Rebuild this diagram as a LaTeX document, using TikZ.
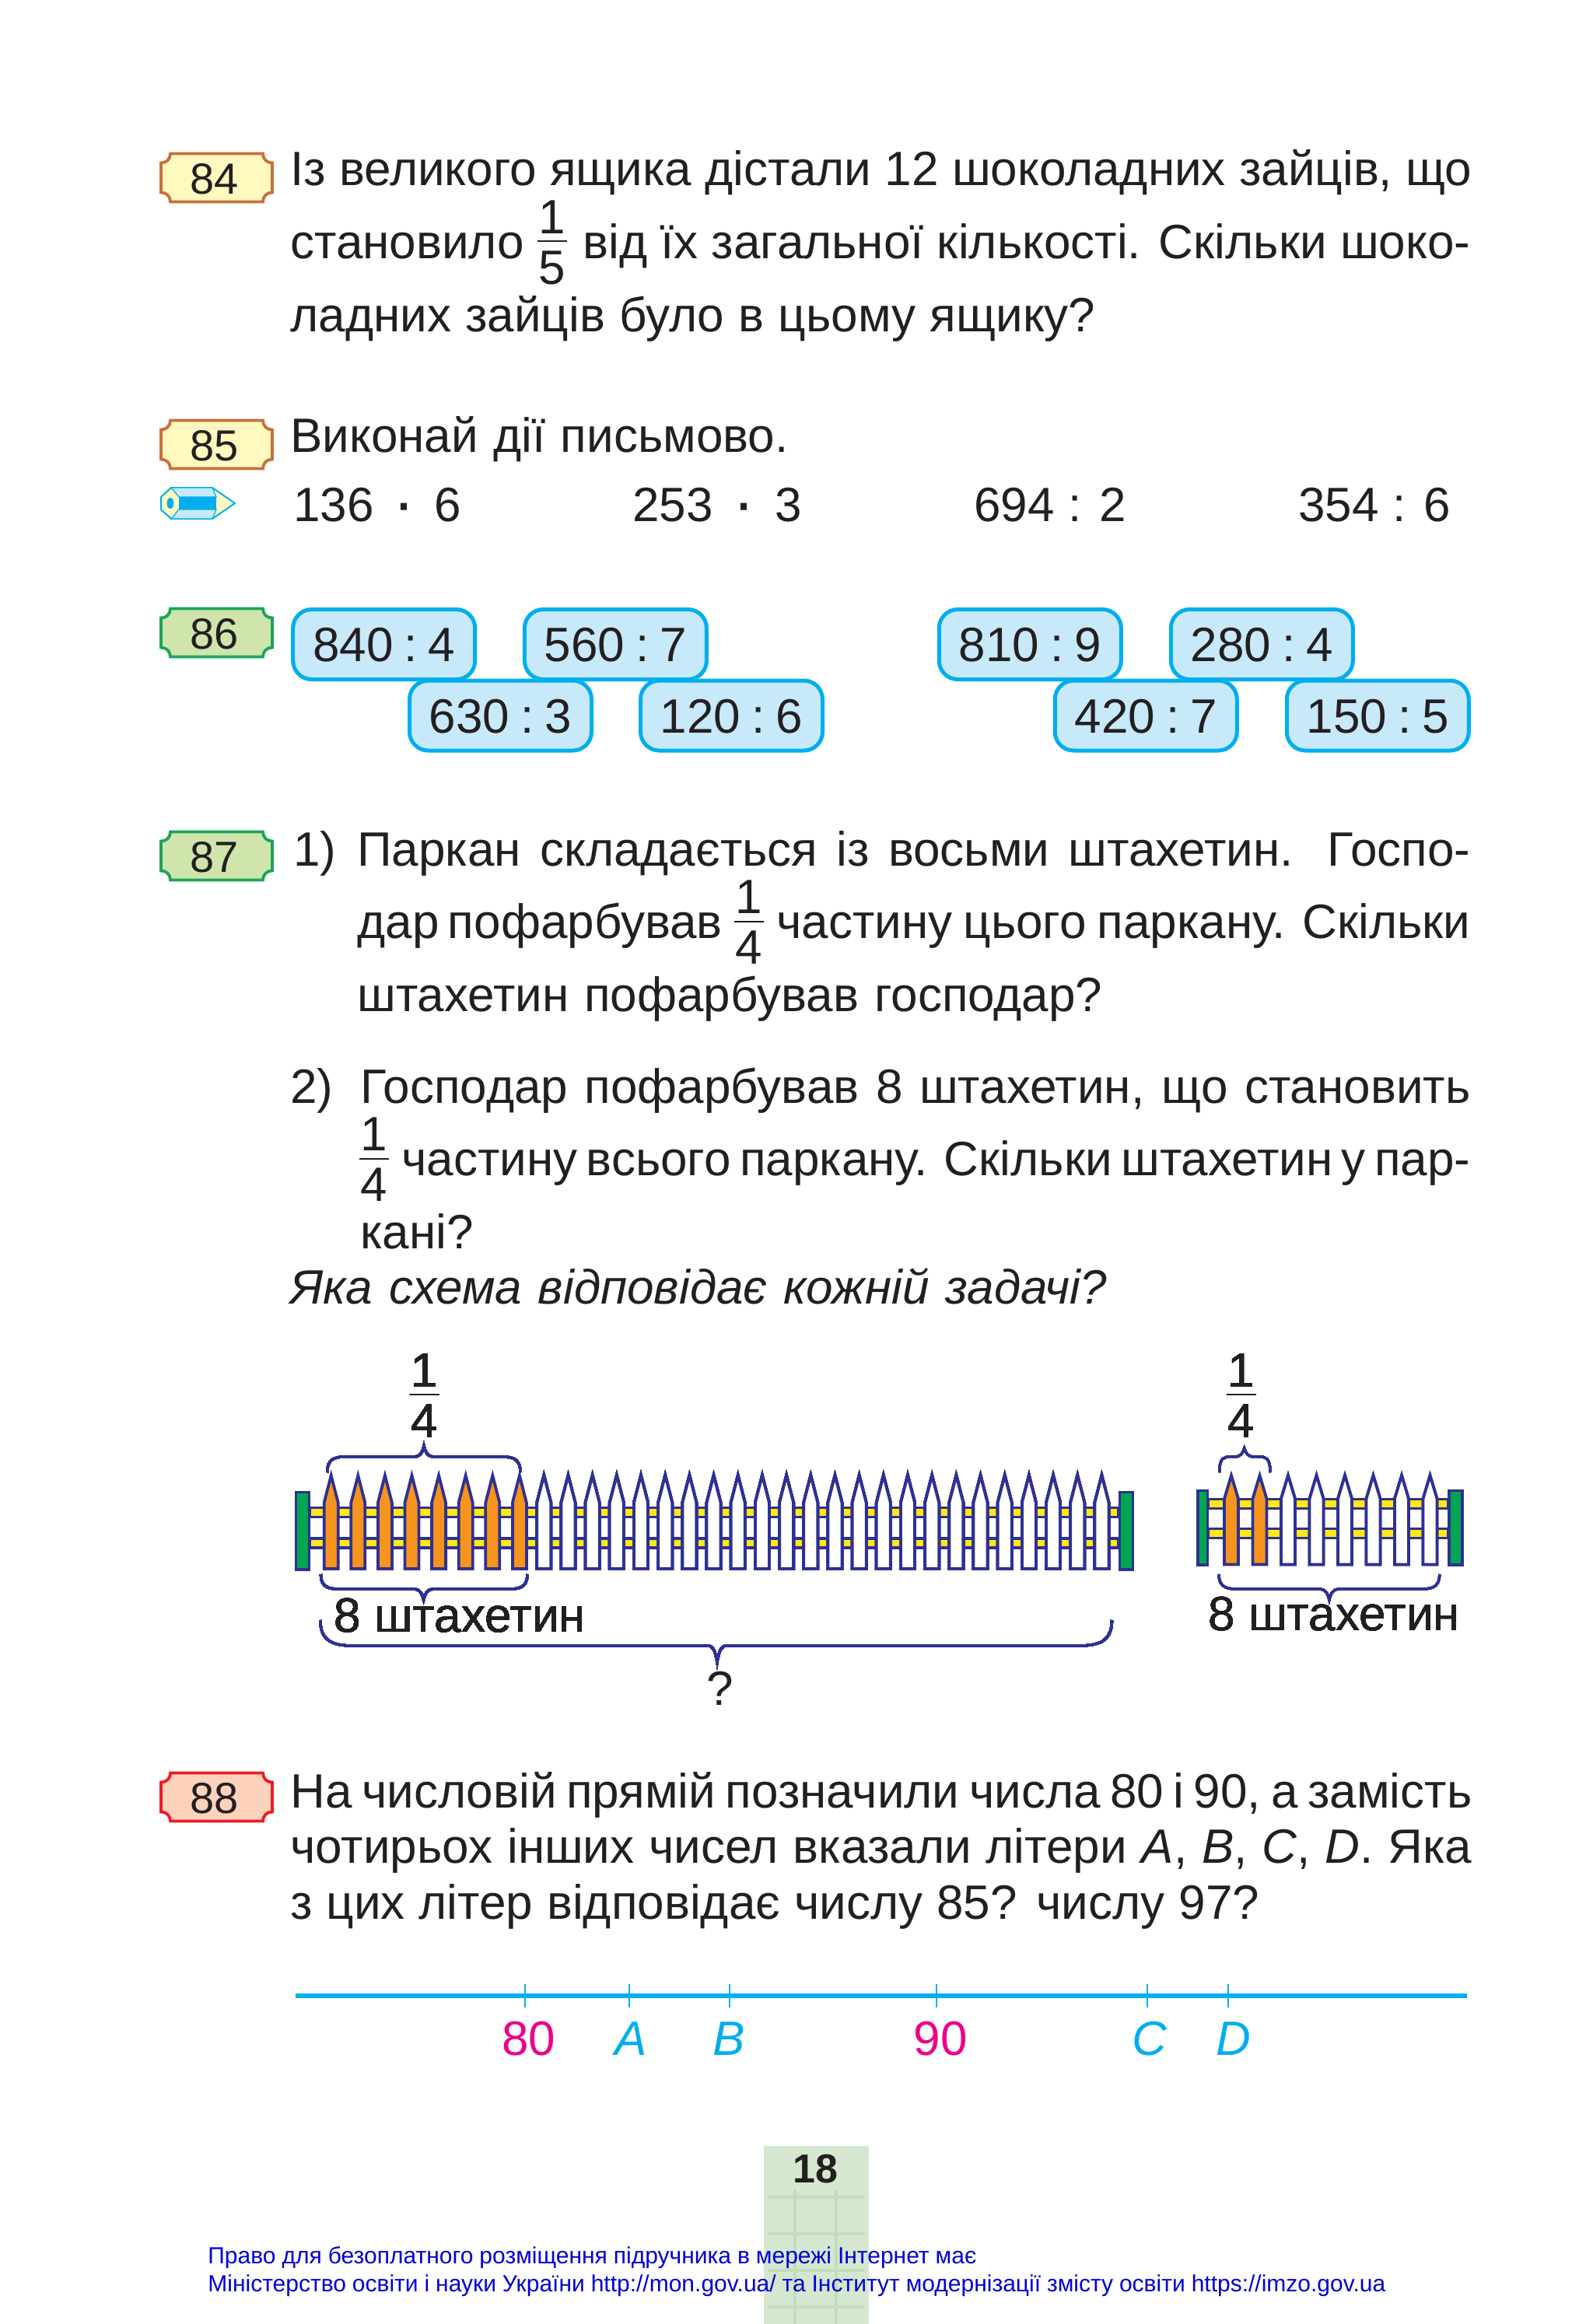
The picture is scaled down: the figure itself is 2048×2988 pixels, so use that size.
\documentclass[tikz,border=0pt]{standalone}
\usepackage{fontspec}
\setmainfont{Liberation Sans}
\definecolor{ink1}{HTML}{231F20}
\definecolor{yellow1}{HTML}{FFF9BF}
\definecolor{brown1}{HTML}{C8703A}
\definecolor{green1}{HTML}{D0E5AB}
\definecolor{green2}{HTML}{1BA55A}
\definecolor{red1}{HTML}{FCD2BD}
\definecolor{red2}{HTML}{ED1C24}
\definecolor{blue1}{HTML}{C7E9F9}
\definecolor{blue2}{HTML}{00AEEF}
\definecolor{navy1}{HTML}{2E3192}
\definecolor{orange1}{HTML}{F7941D}
\definecolor{rail1}{HTML}{FFE815}
\definecolor{post1}{HTML}{00A651}
\definecolor{pink1}{HTML}{EC008C}
\definecolor{page1}{HTML}{D5E8CF}
\definecolor{page2}{HTML}{C3DDBC}
\definecolor{link1}{HTML}{0000D6}

% name, left x, top y, fill, frame, number
\newcommand{\plaque}[6]{
  \draw[line width=1.9pt,draw=#5,fill=#4] ({#2+12},#3) -- ({#2+131},#3)
    .. controls ({#2+131},{#3+7}) and ({#2+136},{#3+12}) .. ({#2+143},{#3+12})
    -- ({#2+143},{#3+50})
    .. controls ({#2+136},{#3+50}) and ({#2+131},{#3+55}) .. ({#2+131},{#3+62})
    -- ({#2+12},{#3+62})
    .. controls ({#2+12},{#3+55}) and ({#2+7},{#3+50}) .. (#2,{#3+50})
    -- (#2,{#3+12})
    .. controls ({#2+7},{#3+12}) and ({#2+12},{#3+7}) .. ({#2+12},#3) -- cycle;
  \node[plaquetext] (#1) at ({#2+68.5},{#3+31.5}) {#6};
}
% name, x, bar y, denominator
\newcommand{\fracnode}[4]{
  \node[txt,anchor=base] (#1n) at (#2,{#3-10}) {1};
  \node[txt,anchor=base] (#1d) at (#2,{#3+55}) {#4};
  \draw[line width=1pt,ink1] ({#2-19},#3) -- ({#2+19},#3);
}
% x, half width, shoulder y, tip y, bottom y, fill
\newcommand{\picket}[6]{
  \draw[fence,fill=#6] ({#1-#2},#5) -- ({#1-#2},#3) -- (#1,#4) -- ({#1+#2},#3) -- ({#1+#2},#5) -- cycle;
}
% x1, x2, middle x, end y, line y, tip y, corner
\newcommand{\fencebrace}[7]{
  \draw[brace1] (#1,#4) .. controls (#1,#5) and ({#1+#7*0.5},#5) .. ({#1+#7},#5)
    -- ({#3-12},#5) .. controls ({#3-5},#5) and ({#3-2},{#5+(#6-#5)*0.4}) .. (#3,#6)
    .. controls ({#3+2},{#5+(#6-#5)*0.4}) and ({#3+5},#5) .. ({#3+12},#5)
    -- ({#2-#7},#5) .. controls ({#2-#7*0.5},#5) and (#2,#5) .. (#2,#4);
}

\begin{document}
\begin{tikzpicture}[x=0.5pt,y=-0.5pt]
  \tikzstyle{txt}=[inner sep=0pt,anchor=base west,text=ink1,font=\fontsize{31}{31}\selectfont]
  \tikzstyle{plaquetext}=[inner sep=0pt,text=ink1,text height=20pt,text depth=0pt,font=\fontsize{28}{28}\selectfont]
  \tikzstyle{sumbox}=[rectangle,rounded corners=12pt,draw=blue2,fill=blue1,line width=2.5pt,text=ink1,minimum width=117pt,minimum height=45pt,inner sep=0pt,text height=22pt,text depth=0pt,font=\fontsize{31}{31}\selectfont]
  \tikzstyle{fence}=[draw=navy1,line width=1.9pt,miter limit=10]
  \tikzstyle{brace1}=[draw=navy1,line width=1.6pt]
  \tikzstyle{pinklabel}=[txt,anchor=base,text=pink1]
  \tikzstyle{bluelabel}=[txt,anchor=base,text=blue2,font=\fontsize{31}{31}\selectfont\itshape]
  \tikzstyle{footer}=[inner sep=0pt,anchor=base west,text=link1,font=\fontsize{15}{15}\selectfont]
  \useasboundingbox (0,0) rectangle (2048,2988);

  % page number block
  \fill[page1] (982,2759) rectangle (1117,2988);
  \foreach \y in {2825,2872,2919,2966}
    \draw[page2,line width=1.6pt] (988,\y) -- (1112,\y);
  \foreach \x in {1022,1075}
    \draw[page2,line width=1.6pt] (\x,2815) -- (\x,2988);
  \node[inner sep=0pt,anchor=base,text=ink1,font=\fontsize{26}{26}\selectfont\bfseries] (pagenum) at (1048,2806) {18};

  % 84
  \plaque{p84}{207}{197.5}{yellow1}{brown1}{84}
  \node[txt] (t84a) at (373,238.6) {\makebox[759.5pt][s]{Із великого ящика дістали 12 шоколадних зайців, що}};
  \node[txt] (t84b) at (373,332) {становило};
  \fracnode{f84}{710}{310}{5}
  \node[txt] (t84c) at (749,332) {\makebox[570.5pt][s]{від їх загальної кількості. Скільки шоко-}};
  \node[txt] (t84d) at (373,426) {\makebox[517.5pt][s]{ладних зайців було в цьому ящику?}};

  % 85
  \plaque{p85}{207}{540.5}{yellow1}{brown1}{85}
  \node[txt] (t85) at (373,581.5) {\makebox[320pt][s]{Виконай дії письмово.}};
  \draw[blue2,line width=1pt,fill=yellow1] (220,627) -- (273,627) -- (302,647) -- (273,667) -- (220,667) -- (207,655) -- (207,639) -- cycle;
  \draw[blue2,line width=0.6pt,fill=blue1] (220,627) -- (273,627) -- (278,639) -- (230,639) -- cycle;
  \draw[blue2,line width=0.6pt,fill=blue1] (220,667) -- (273,667) -- (278,655) -- (230,655) -- cycle;
  \fill[blue2] (230,639) rectangle (278,655);
  \fill[blue2] (219,647) ellipse (4.5 and 7);
  \node[txt] (e1) at (377,670) {\makebox[108pt][s]{136 {\fontsize{42}{42}\selectfont\raisebox{-2pt}{·}} 6}};
  \node[txt] (e2) at (813,670) {\makebox[109pt][s]{253 {\fontsize{42}{42}\selectfont\raisebox{-2pt}{·}} 3}};
  \node[txt] (e3) at (1252,670) {\makebox[98pt][s]{694 : 2}};
  \node[txt] (e4) at (1669,670) {\makebox[98pt][s]{354 : 6}};

  % 86
  \plaque{p86}{207}{782.5}{green1}{green2}{86}
  \node[sumbox] (b1) at (493.7,828.5) {840\hspace{7pt}:\hspace{7pt}4};
  \node[sumbox] (b2) at (791.4,828.5) {560\hspace{7pt}:\hspace{7pt}7};
  \node[sumbox] (b3) at (1324.3,828.5) {810\hspace{7pt}:\hspace{7pt}9};
  \node[sumbox] (b4) at (1622.3,828.5) {280\hspace{7pt}:\hspace{7pt}4};
  \node[sumbox] (b5) at (643.5,920) {630\hspace{7pt}:\hspace{7pt}3};
  \node[sumbox] (b6) at (940.5,920) {120\hspace{7pt}:\hspace{7pt}6};
  \node[sumbox] (b7) at (1473.3,920) {420\hspace{7pt}:\hspace{7pt}7};
  \node[sumbox] (b8) at (1771.3,920) {150\hspace{7pt}:\hspace{7pt}5};

  % 87
  \plaque{p87}{207}{1069.5}{green1}{green2}{87}
  \node[txt] (n1) at (377,1113) {1)};
  \node[txt] (t87a) at (459,1113) {\makebox[715.5pt][s]{Паркан складається із восьми штахетин. Госпо-}};
  \node[txt] (t87b) at (459,1206.5) {\makebox[234.5pt][s]{дар пофарбував}};
  \fracnode{f87a}{963}{1184.5}{4}
  \node[txt] (t87c) at (998,1206.5) {\makebox[446pt][s]{частину цього паркану. Скільки}};
  \node[txt] (t87d) at (459,1300) {\makebox[479pt][s]{штахетин пофарбував господар?}};
  \node[txt] (n2) at (373,1418) {2)};
  \node[txt] (t87e) at (463,1418) {\makebox[713.5pt][s]{Господар пофарбував 8 штахетин, що становить}};
  \fracnode{f87b}{481}{1489.5}{4}
  \node[txt] (t87f) at (516,1511.5) {\makebox[687pt][s]{частину всього паркану. Скільки штахетин у пар-}};
  \node[txt] (t87g) at (463,1605) {кані?};
  \node[txt,font=\fontsize{31}{31}\selectfont\itshape] (t87h) at (373,1676) {\makebox[525pt][s]{Яка схема відповідає кожній задачі?}};

  % long fence
  \foreach \y in {1944.5,1984}
    \draw[fence,fill=rail1] (398,{\y-6}) rectangle (1438,{\y+6});
  \draw[fence,fill=post1] (380.5,1918.5) rectangle (397.5,2018);
  \draw[fence,fill=post1] (1439.5,1918.5) rectangle (1456.5,2018);
  \foreach \i in {0,...,7}
    \picket{425.7+34.6*\i}{9}{1932}{1897}{2017}{orange1}
  \foreach \i in {0,...,23}
    \picket{699.3+31.18*\i}{9}{1932}{1897}{2017}{white}
  \fencebrace{420.7}{669}{545}{1893}{1873}{1859}{26}
  \fencebrace{412.5}{678}{544.6}{2024}{2043}{2057}{26}
  \fencebrace{411.8}{1429.5}{922}{2083}{2116}{2137}{50}
  \fracnode{f1}{545.5}{1793}{4}
  \node[txt] (c1) at (429,2098) {8 штахетин};
  \node[txt,anchor=base] (q1) at (926,2192) {?};

  % short fence
  \foreach \y in {1933.5,1971.5}
    \draw[fence,fill=rail1] (1553,{\y-6}) rectangle (1862,{\y+6});
  \draw[fence,fill=post1] (1540,1916.5) rectangle (1552.5,2012);
  \draw[fence,fill=post1] (1863,1916.5) rectangle (1880,2012);
  \foreach \i in {0,1}
    \picket{1583+36.5*\i}{9}{1927}{1897}{2011.5}{orange1}
  \foreach \i in {2,...,7}
    \picket{1583+36.5*\i}{9}{1927}{1897}{2011.5}{white}
  \fencebrace{1567.7}{1633}{1599.7}{1893}{1873}{1862}{14}
  \fencebrace{1567}{1850.7}{1708.9}{2024}{2043}{2057}{26}
  \fracnode{f2}{1595.5}{1793}{4}
  \node[txt] (c2) at (1553,2096) {8 штахетин};

  % 88
  \plaque{p88}{207}{2279.5}{red1}{red2}{88}
  \node[txt] (t88a) at (373,2324) {\makebox[759.5pt][s]{На числовій прямій позначили числа 80 і 90, а замість}};
  \node[txt] (t88b) at (373,2395) {\makebox[759.5pt][s]{чотирьох інших чисел вказали літери \textit{A}, \textit{B}, \textit{C}, \textit{D}. Яка}};
  \node[txt] (t88c) at (373,2467) {\makebox[623pt][s]{з цих літер відповідає числу 85? числу 97?}};

  % number line
  \coordinate (l1) at (380,2566);
  \coordinate (l2) at (1885.5,2566);
  \draw[blue2,line width=3.2pt] (l1) -- (l2);
  \foreach \x in {675.3,809,937.6,1203.8,1475,1579}
    \draw[blue2,line width=1pt] (\x,2551) -- (\x,2581);
  \node[pinklabel] (m80) at (680,2642) {80};
  \node[bluelabel] (ma) at (811,2642) {A};
  \node[bluelabel] (mb) at (937,2642) {B};
  \node[pinklabel] (m90) at (1209,2642) {90};
  \node[bluelabel] (mc) at (1478,2642) {C};
  \node[bluelabel] (md) at (1586,2642) {D};

  % footer
  \node[footer] (foot1) at (267,2910) {\makebox[494pt][s]{Право для безоплатного розміщення підручника в мережі Інтернет має}};
  \node[footer] (foot2) at (267,2946) {\makebox[757pt][s]{Міністерство освіти і науки України http://mon.gov.ua/ та Інститут модернізації змісту освіти https://imzo.gov.ua}};
\end{tikzpicture}
\end{document}
